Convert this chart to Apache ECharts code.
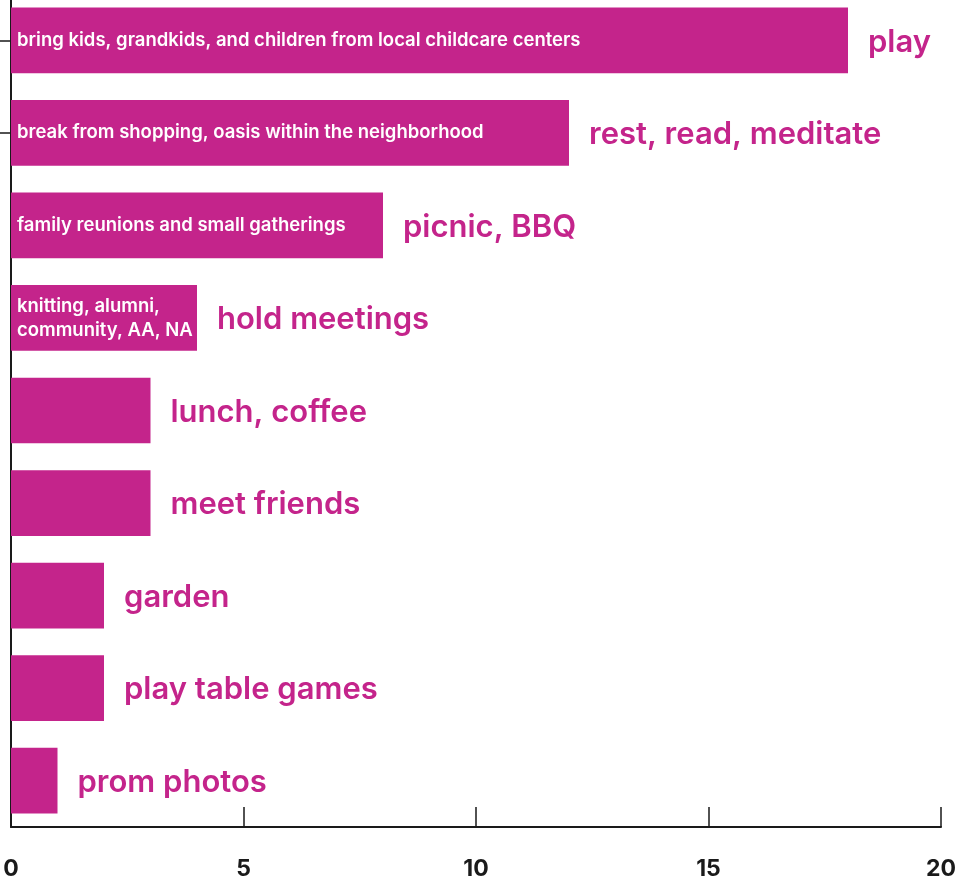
<!DOCTYPE html>
<html>
<head>
<meta charset="utf-8">
<script src="https://cdn.jsdelivr.net/npm/echarts@6/dist/echarts.min.js"></script>
<style>
  html, body { margin: 0; padding: 0; background: #fff; }
  #chart { width: 959px; height: 877px; }
</style>
</head>
<body>
<div id="chart"></div>
<script>
// Activities, top to bottom
const activities = [
  'play',
  'rest, read, meditate',
  'picnic, BBQ',
  'hold meetings',
  'lunch, coffee',
  'meet friends',
  'garden',
  'play table games',
  'prom photos'
];

// Number of mentions per activity
const mentions = [18, 12, 8, 4, 3, 3, 2, 2, 1];

// Detail text printed inside the bars
const details = [
  'bring kids, grandkids, and children from local childcare centers',
  'break from shopping, oasis within the neighborhood',
  'family reunions and small gatherings',
  'knitting, alumni,\ncommunity, AA, NA',
  '', '', '', '', ''
];

// Value axis ticks
const xTicks = { min: 0, max: 20, step: 5 };

const MAGENTA = '#c4248b';
const INK = '#1a1a1a';
const FONT = 'Inter, "Open Sans", sans-serif';

const chart = echarts.init(document.getElementById('chart'), null, { renderer: 'canvas' });

chart.setOption({
  animation: false,
  grid: {
    left: 11, right: 18, top: -6, bottom: 50,
    containLabel: false,
    outerBoundsMode: 'none'
  },
  xAxis: {
    type: 'value',
    min: xTicks.min,
    max: xTicks.max,
    interval: xTicks.step,
    axisLine: { show: true, lineStyle: { color: INK, width: 2 } },
    axisTick: { show: true, inside: true, length: 20, lineStyle: { color: INK, width: 1.5 } },
    splitLine: { show: false },
    axisLabel: { color: INK, fontFamily: FONT, fontWeight: 'bold', fontSize: 23, margin: 31 }
  },
  yAxis: {
    type: 'category',
    inverse: true,
    data: activities,
    axisLine: { show: true, lineStyle: { color: INK, width: 2 } },
    axisTick: {
      show: true,
      alignWithLabel: true,
      length: 11,
      interval: (idx) => idx < 2,
      lineStyle: { color: INK, width: 1.5 }
    },
    axisLabel: { show: false }
  },
  series: [
    {
      type: 'bar',
      data: mentions,
      barCategoryGap: '29%',
      itemStyle: { color: MAGENTA },
      label: {
        show: true,
        position: 'insideLeft',
        distance: 6,
        color: '#fff',
        fontFamily: FONT,
        fontWeight: 600,
        fontSize: 18.5,
        lineHeight: 24,
        formatter: (p) => details[p.dataIndex]
      },
      z: 2
    },
    {
      type: 'bar',
      data: mentions,
      barGap: '-100%',
      barCategoryGap: '29%',
      itemStyle: { color: 'rgba(0,0,0,0)' },
      label: {
        show: true,
        position: 'right',
        distance: 20,
        offset: [0, 2],
        color: MAGENTA,
        fontFamily: FONT,
        fontWeight: 600,
        fontSize: 31,
        formatter: (p) => activities[p.dataIndex]
      },
      z: 3
    }
  ]
});
</script>
</body>
</html>
